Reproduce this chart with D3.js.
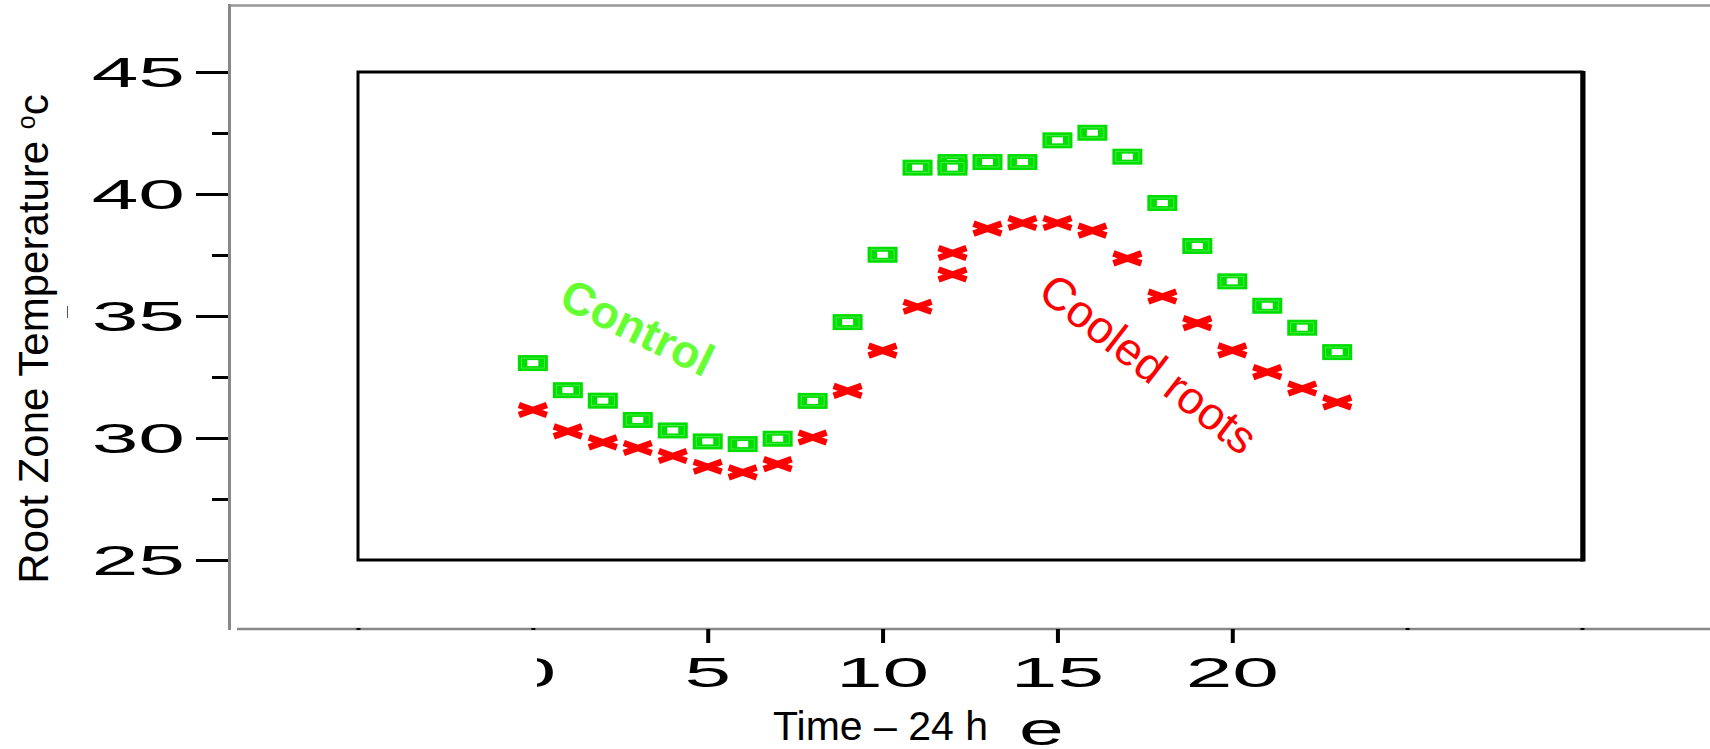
<!DOCTYPE html>
<html>
<head>
<meta charset="utf-8">
<script src="https://d3js.org/d3.v7.min.js"></script>
<style>
  body { margin: 0; background: #fff; }
  text { font-family: "Liberation Sans", Arial, sans-serif; }
</style>
</head>
<body>
<svg width="1710" height="749"></svg>
<script>
// hours of the day (hour 12 was logged twice)
var controlHours = [0,1,2,3,4,5,6,7,8,9,10,11,12,12,13,14,15,16,17,18,19,20,21,22,23];
var controlTemps = [33.07,31.96,31.53,30.74,30.31,29.86,29.75,29.97,31.52,34.75,37.51,41.08,41.31,41.08,41.31,41.31,42.2,42.51,41.53,39.63,37.87,36.42,35.42,34.52,33.52];

var cooledHours = [0,1,2,3,4,5,6,7,8,9,10,11,12,12,13,14,15,16,17,18,19,20,21,22,23];
var cooledTemps = [31.15,30.27,29.82,29.59,29.26,28.82,28.59,28.93,30.02,31.93,33.58,35.38,36.7,37.58,38.58,38.81,38.81,38.5,37.36,35.8,34.71,33.59,32.7,32.03,31.46];

var yTicks = [25, 30, 35, 40, 45];
var yMinorTicks = [27.5, 32.5, 37.5, 42.5];
var xTicks = [5, 10, 15, 20];
var xDotTicks = [-5, 0, 25, 30];
var xTickLabels = ["0", "5", "10", "15", "20"];

var svg = d3.select("svg");
var stretch = 1.95;

var x = d3.scaleLinear().domain([-5, 30]).range([358, 1582]);
var y = d3.scaleLinear().domain([25, 45]).range([560, 72]);

// grey outer frame
svg.append("line").attr("x1", 228).attr("x2", 1710).attr("y1", 5.5).attr("y2", 5.5)
   .attr("stroke", "#999").attr("stroke-width", 2.5);
svg.append("line").attr("x1", 229.5).attr("x2", 229.5).attr("y1", 4).attr("y2", 630)
   .attr("stroke", "#888").attr("stroke-width", 3);
svg.append("line").attr("x1", 237).attr("x2", 1710).attr("y1", 629).attr("y2", 629)
   .attr("stroke", "#888").attr("stroke-width", 2.5);

// inner box
svg.append("rect")
   .attr("x", x(-5)).attr("y", y(45))
   .attr("width", x(30) - x(-5)).attr("height", y(25) - y(45))
   .attr("fill", "none").attr("stroke", "#000").attr("stroke-width", 3);
svg.append("line").attr("x1", x(30) + 1).attr("x2", x(30) + 1).attr("y1", y(45) - 1).attr("y2", y(25) + 1.5)
   .attr("stroke", "#000").attr("stroke-width", 5);

// y axis
var yAxis = svg.append("g").attr("transform", "translate(228,0)")
   .call(d3.axisLeft(y).tickValues(yTicks).tickSize(32).tickFormat(""));
var yMinor = svg.append("g").attr("transform", "translate(228,0)")
   .call(d3.axisLeft(y).tickValues(yMinorTicks).tickSize(16).tickFormat(""));
[yAxis, yMinor].forEach(function (g) {
  g.select(".domain").remove();
  g.selectAll(".tick line").attr("stroke", "#000").attr("stroke-width", 3);
});

svg.selectAll(".ylab")
   .data(yTicks)
   .enter().append("text")
   .attr("class", "ylab")
   .attr("transform", function (d) { return "translate(185," + y(d) + ") scale(" + stretch + ",1)"; })
   .attr("text-anchor", "end")
   .attr("dy", "0.36em")
   .style("font-size", "43px")
   .text(function (d) { return d; });

// x axis
var xAxis = svg.append("g").attr("transform", "translate(0,629)")
   .call(d3.axisBottom(x).tickValues(xTicks).tickSize(14).tickFormat(""));
var xDots = svg.append("g").attr("transform", "translate(0,628)")
   .call(d3.axisBottom(x).tickValues(xDotTicks).tickSize(2).tickFormat(""));
[xAxis, xDots].forEach(function (g) {
  g.select(".domain").remove();
  g.selectAll(".tick line").attr("stroke", "#000").attr("stroke-width", 4);
});

svg.selectAll(".xlab")
   .data([0].concat(xTicks))
   .enter().append("text")
   .attr("class", "xlab")
   .attr("transform", function (d) { return "translate(" + x(d) + ",672) scale(" + stretch + ",1)"; })
   .attr("text-anchor", "middle")
   .attr("dy", "0.36em")
   .style("font-size", "43px")
   .text(function (d, i) { return xTickLabels[i]; });

// the "0" label is mostly hidden in the original
svg.append("rect").attr("x", 495).attr("y", 645).attr("width", 42).attr("height", 50).attr("fill", "#fff");

// axis titles
svg.append("text")
   .attr("x", 773).attr("y", 740)
   .style("font-size", "41px")
   .text("Time \u2013 24 h");
svg.append("text")
   .attr("transform", "translate(1019,745) scale(1.75,1)")
   .style("font-size", "46px")
   .text("e");

var yTitle = svg.append("text")
   .attr("transform", "translate(48,339) rotate(-90)")
   .attr("text-anchor", "middle")
   .style("font-size", "42px");
yTitle.append("tspan").text("Root Zone Temperature ");
yTitle.append("tspan").attr("dy", -13).style("font-size", "25px").text("o");
yTitle.append("tspan").attr("dy", 13).text("c");
svg.append("line").attr("x1", 67.5).attr("x2", 67.5).attr("y1", 306).attr("y2", 318)
   .attr("stroke", "#555").attr("stroke-width", 1);

// control markers
var ctrl = svg.selectAll(".ctrl")
   .data(controlTemps)
   .enter().append("g")
   .attr("class", "ctrl")
   .attr("transform", function (d, i) { return "translate(" + x(controlHours[i]) + "," + y(d) + ")"; });
ctrl.append("rect").attr("x", -15).attr("y", -8).attr("width", 30).attr("height", 16).attr("fill", "#00dd00");
ctrl.append("rect").attr("x", -11.5).attr("y", -5).attr("width", 23).attr("height", 10)
   .attr("fill", "none").attr("stroke", "#55ee55").attr("stroke-width", 0.8);
ctrl.append("rect").attr("x", -5.5).attr("y", -3).attr("width", 11).attr("height", 6).attr("fill", "#fff");

// cooled markers
svg.selectAll(".cool")
   .data(cooledTemps)
   .enter().append("path")
   .attr("class", "cool")
   .attr("transform", function (d, i) { return "translate(" + x(cooledHours[i]) + "," + y(d) + ")"; })
   .attr("d", "M-14,-5L14,5M-14,5L14,-5")
   .attr("stroke", "#ff0000")
   .attr("stroke-width", 6.5)
   .attr("fill", "none");

// series labels
svg.append("text")
   .attr("transform", "translate(557,306) rotate(26)")
   .style("font-size", "46px")
   .style("font-weight", "bold")
   .attr("fill", "#66ff33")
   .text("Control");

svg.append("text")
   .attr("transform", "translate(1036,296) rotate(38)")
   .style("font-size", "46px")
   .attr("fill", "#ff0000")
   .text("Cooled roots");
</script>
</body>
</html>
